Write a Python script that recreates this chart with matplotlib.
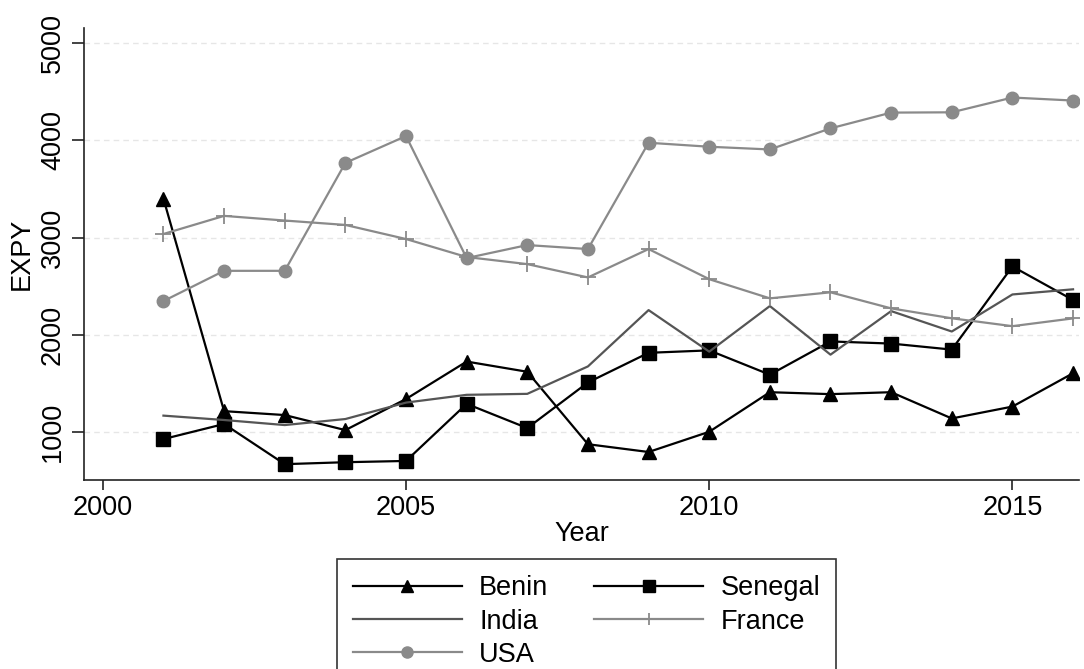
import matplotlib
matplotlib.use("Agg")
import matplotlib.pyplot as plt

plt.rcParams['font.family'] = ['Liberation Sans', 'DejaVu Sans']

years = list(range(2001, 2017))
benin = [3400, 1215, 1175, 1020, 1340, 1725, 1620, 875, 795, 1003, 1410, 1390, 1410, 1140, 1262, 1605]
senegal = [928, 1083, 670, 690, 703, 1290, 1041, 1510, 1815, 1840, 1590, 1932, 1910, 1848, 2703, 2358]
india = [1169, 1124, 1072, 1134, 1303, 1383, 1393, 1675, 2254, 1827, 2296, 1796, 2244, 2034, 2415, 2468]
france = [3037, 3223, 3175, 3130, 2985, 2800, 2727, 2590, 2882, 2572, 2375, 2437, 2272, 2170, 2089, 2169]
usa = [2347, 2658, 2658, 3768, 4044, 2789, 2923, 2882, 3975, 3934, 3906, 4123, 4285, 4288, 4440, 4409]

x_ticks = [2000, 2005, 2010, 2015]
y_ticks = [1000, 2000, 3000, 4000, 5000]

FS = 19.5

fig = plt.figure(figsize=(10.84, 6.69), dpi=100)
ax = fig.add_axes([0.0775, 0.2825, 0.918, 0.6755])

lw = 1.6
h_benin, = ax.plot(years, benin, color='black', lw=lw, marker='^', ms=10, label='Benin')
h_sen, = ax.plot(years, senegal, color='black', lw=lw, marker='s', ms=9.5, label='Senegal')
h_ind, = ax.plot(years, india, color='#555555', lw=lw, label='India')
h_fra, = ax.plot(years, france, color='#8a8a8a', lw=lw, marker='+', ms=12, mew=1.3, label='France')
h_usa, = ax.plot(years, usa, color='#8a8a8a', lw=lw, marker='o', ms=9, label='USA')

ax.set_xlim(1999.69, 2016.1)
ax.set_ylim(507, 5154)
ax.set_xticks(x_ticks)
ax.set_yticks(y_ticks)
ax.set_yticklabels([str(v) for v in y_ticks], rotation=90, va='center')
ax.tick_params(axis='both', labelsize=FS, width=1.2, color='#222222')
ax.tick_params(axis='x', length=7, pad=4)
ax.tick_params(axis='y', length=8.6, pad=4.3)

for s in ('top', 'right'):
    ax.spines[s].set_visible(False)
for s in ('left', 'bottom'):
    ax.spines[s].set_linewidth(1.2)
    ax.spines[s].set_color('#222222')

ax.grid(axis='y', color='#e6e6e6', lw=1.0, ls=(0, (4, 3)))
ax.set_axisbelow(True)

ax.set_xlabel('Year', fontsize=FS, labelpad=0)
ax.set_ylabel('EXPY', fontsize=FS, labelpad=4)

leg = fig.legend([h_benin, h_ind, h_usa, h_sen, h_fra],
                 ['Benin', 'India', 'USA', 'Senegal', 'France'],
                 ncol=2, loc='upper left', bbox_to_anchor=(337 / 1084, 1 - 559 / 669),
                 fontsize=FS, frameon=True, fancybox=False, edgecolor='black',
                 handlelength=4.0, handletextpad=0.65, columnspacing=1.7,
                 labelspacing=0.27, borderpad=0.6, borderaxespad=0)
leg.get_frame().set_linewidth(1.2)
for h in leg.legend_handles:
    h.set_markersize(8)

fig.savefig('out.png', dpi=100)
